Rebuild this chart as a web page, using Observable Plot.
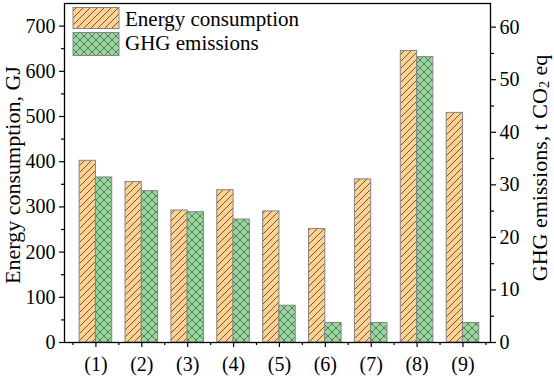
<!DOCTYPE html>
<html>
<head>
<meta charset="utf-8">
<script src="https://cdn.jsdelivr.net/npm/d3@7"></script>
<script src="https://cdn.jsdelivr.net/npm/@observablehq/plot@0.6"></script>
<style>
  html, body { margin: 0; padding: 0; background: white; }
</style>
</head>
<body>
<div id="chart"></div>
<script>
const categories = ["(1)", "(2)", "(3)", "(4)", "(5)", "(6)", "(7)", "(8)", "(9)"];
const energy = [402, 355, 292, 337, 290, 251, 361, 645, 508];
const ghg = [31.4, 28.8, 24.8, 23.4, 7.0, 3.7, 3.7, 54.3, 3.7];
const leftTicks = [0, 100, 200, 300, 400, 500, 600, 700];
const leftMinor = [50, 150, 250, 350, 450, 550, 650];
const rightTicks = [0, 10, 20, 30, 40, 50, 60];
const rightMinor = [5, 15, 25, 35, 45, 55];
const seriesNames = ["Energy consumption", "GHG emissions"];

const yMax = 750, rMax = 64.5, k = yMax / rMax;
const w = 0.355;
const rows = categories.map((c, i) => ({pos: i + 1, label: c, e: energy[i], g: ghg[i] * k}));
const catPos = rows.map(d => d.pos);
const halfPos = d3.range(0, 10).map(i => i + 0.5);

const font = "Liberation Serif, Times New Roman, serif";

const plot = Plot.plot({
  width: 554,
  height: 378,
  marginLeft: 64,
  marginRight: 64,
  marginTop: 3,
  marginBottom: 36,
  style: {fontFamily: font, fontSize: "20px", background: "white", color: "black"},
  x: {type: "linear", domain: [0.315, 9.6]},
  y: {domain: [0, yMax]},
  marks: [
    Plot.rect(rows, {x1: d => d.pos - w, x2: d => d.pos, y1: d => 0, y2: "e", fill: "url(#hatchE)", stroke: "#858585", strokeWidth: 1}),
    Plot.rect(rows, {x1: d => d.pos, x2: d => d.pos + w, y1: d => 0, y2: "g", fill: "url(#hatchG)", stroke: "#858585", strokeWidth: 1}),
    Plot.axisY(leftTicks, {anchor: "left", tickSize: 5, tickPadding: 4, label: null, tickFormat: d => String(d), strokeWidth: 1.2}),
    Plot.axisY(leftMinor, {anchor: "left", tickSize: 3, label: null, tickFormat: () => "", strokeWidth: 1.2}),
    Plot.axisY(rightTicks.map(d => d * k), {anchor: "right", tickSize: 5, tickPadding: 4, label: null, tickFormat: d => String(Math.round(d / k)), strokeWidth: 1.2}),
    Plot.axisY(rightMinor.map(d => d * k), {anchor: "right", tickSize: 3, label: null, tickFormat: () => "", strokeWidth: 1.2}),
    Plot.axisX(catPos, {anchor: "bottom", tickSize: 5, tickPadding: 9, label: null, tickFormat: d => categories[d - 1], strokeWidth: 1.2}),
    Plot.axisX(halfPos, {anchor: "bottom", tickSize: 3, label: null, tickFormat: () => "", strokeWidth: 1.2}),
    Plot.frame({stroke: "black", strokeWidth: 1.3})
  ]
});

const svg = d3.select(plot);
const defs = svg.insert("defs", ":first-child");
const pe = defs.append("pattern").attr("id", "hatchE").attr("patternUnits", "userSpaceOnUse").attr("width", 7).attr("height", 7);
pe.append("rect").attr("width", 7).attr("height", 7).attr("fill", "#FFD08E");
pe.append("path").attr("d", "M-1,1 L1,-1 M0,7 L7,0 M6,8 L8,6").attr("stroke", "#3a3a3a").attr("stroke-width", 0.8);
const pg = defs.append("pattern").attr("id", "hatchG").attr("patternUnits", "userSpaceOnUse").attr("width", 8).attr("height", 8);
pg.append("rect").attr("width", 8).attr("height", 8).attr("fill", "#95D89B");
pg.append("path").attr("d", "M0,0 L8,8 M8,0 L0,8").attr("stroke", "#4a4a4a").attr("stroke-width", 0.7);

// Legend
const lg = svg.append("g").attr("font-family", font).attr("font-size", 21).attr("fill", "black").attr("text-anchor", "start");
lg.append("rect").attr("x", 73).attr("y", 7.5).attr("width", 46).attr("height", 21).attr("fill", "url(#hatchE)").attr("stroke", "#858585");
lg.append("rect").attr("x", 73).attr("y", 32.5).attr("width", 46).attr("height", 23).attr("fill", "url(#hatchG)").attr("stroke", "#858585");
lg.append("text").attr("x", 125).attr("y", 26).attr("text-anchor", "start").text(seriesNames[0]);
lg.append("text").attr("x", 125).attr("y", 50).attr("text-anchor", "start").text(seriesNames[1]);

// Axis titles
svg.append("text")
  .attr("transform", "translate(12,175) rotate(-90)")
  .attr("text-anchor", "middle").attr("dominant-baseline", "central")
  .attr("font-family", font).attr("font-size", 22).attr("fill", "black")
  .text("Energy consumption, GJ");
const rt = svg.append("text")
  .attr("transform", "translate(539,168) rotate(-90)")
  .attr("text-anchor", "middle").attr("dominant-baseline", "central")
  .attr("font-family", font).attr("font-size", 22).attr("fill", "black");
rt.append("tspan").text("GHG emissions, t CO");
rt.append("tspan").attr("font-size", 14).attr("dy", 5).text("2");
rt.append("tspan").attr("dy", -5).text(" eq");

document.getElementById("chart").appendChild(plot);
</script>
</body>
</html>
